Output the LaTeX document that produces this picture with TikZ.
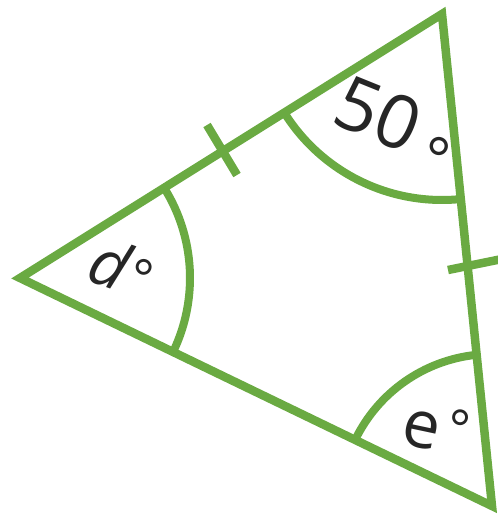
\documentclass[tikz,border=0pt]{standalone}
\usepackage{fontspec}
\setmainfont{Open Sans}
\usetikzlibrary{angles}
\definecolor{tgreen}{RGB}{106,170,66}
\begin{document}
\begin{tikzpicture}[x=1pt,y=1pt,
  side/.style={draw=tgreen,line width=8.5pt,line join=miter},
  arcline/.style={draw=tgreen,line width=8pt},
  lbl/.style={text=black!85,inner sep=0pt}]
\useasboundingbox (0,0) rectangle (498,-523);
\coordinate (A) at (20,-278);
\coordinate (B) at (442,-14);
\coordinate (C) at (492,-506);
\draw[side] (A) -- (B) -- (C) -- cycle;
% tick marks
\coordinate (t1a) at (207,-125);
\coordinate (t1b) at (237,-175);
\coordinate (t2a) at (448,-270);
\coordinate (t2b) at (502,-259);
\draw[side,line join=round] (t1a) -- (t1b);
\draw[side] (t2a) -- (t2b);
% angle arcs
\pic[arcline,angle radius=170pt] {angle=C--A--B};
\pic[arcline,angle radius=186pt] {angle=A--B--C};
\pic[arcline,angle radius=152pt] {angle=B--C--A};
% labels
\node[lbl,rotate=-20,font=\fontsize{64}{64}\selectfont\itshape] (ld) at (122,-268) {d\kern4pt\raisebox{2pt}{\fontsize{52}{52}\selectfont\upshape°}};
\node[lbl,rotate=-22,font=\fontsize{74}{74}\selectfont] (l50) at (394,-128) {50\kern14pt\raisebox{-16pt}{\fontsize{60}{60}\selectfont°}};
\node[lbl,rotate=-12,font=\fontsize{66}{66}\selectfont] (le) at (436,-428) {e\kern6pt\raisebox{8pt}{\fontsize{52}{52}\selectfont°}};
\end{tikzpicture}
\end{document}
